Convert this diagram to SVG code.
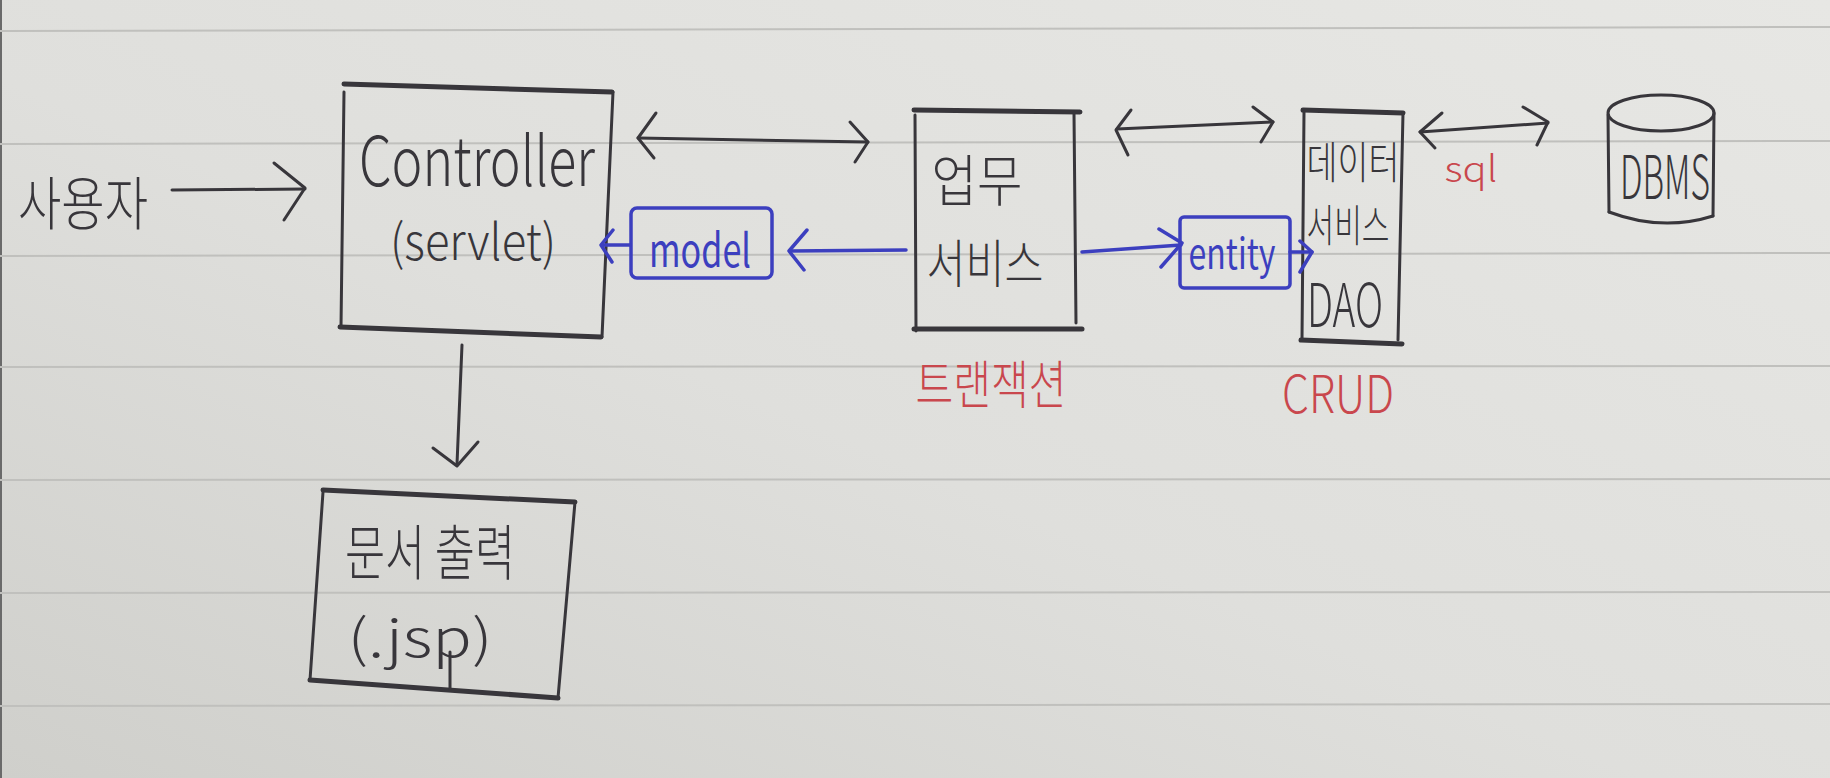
<svg xmlns="http://www.w3.org/2000/svg" width="1830" height="778" viewBox="0 0 1830 778">
<defs>
<linearGradient id="paper" x1="1" y1="0" x2="0" y2="1">
<stop offset="0" stop-color="#e7e7e4"/>
<stop offset="0.55" stop-color="#dfdfdc"/>
<stop offset="1" stop-color="#cfcfcb"/>
</linearGradient>
<style>
.ink{fill:none;stroke:#38363b;stroke-width:3;stroke-linecap:round;stroke-linejoin:round}
.edge{fill:none;stroke:#38363b;stroke-width:5;stroke-linecap:round}
.blue{fill:none;stroke:#3c3fbf;stroke-width:3.5;stroke-linecap:round;stroke-linejoin:round}
.rule{stroke:#c0c0bd;stroke-width:2;fill:none}
.t{font-family:"Noto Sans CJK KR","Noto Sans",sans-serif;font-weight:300;fill:#38363b;text-anchor:middle;dominant-baseline:central}
.tb{fill:#3c3fbf;font-weight:400}
.tr{fill:#c9474d}
</style>
</defs>
<rect x="0" y="0" width="1830" height="778" fill="url(#paper)"/>
<line x1="1" y1="0" x2="1" y2="778" stroke="#6a6a6a" stroke-width="2"/>
<g id="paper-lines">
<line class="rule" x1="0" y1="31" x2="1830" y2="27"/>
<line class="rule" x1="0" y1="144" x2="1830" y2="141"/>
<line class="rule" x1="0" y1="256" x2="1830" y2="253"/>
<line class="rule" x1="0" y1="367" x2="1830" y2="366"/>
<line class="rule" x1="0" y1="480" x2="1830" y2="479"/>
<line class="rule" x1="0" y1="593" x2="1830" y2="592"/>
<line class="rule" x1="0" y1="706" x2="1830" y2="704"/>
</g>

<g id="user">
<text class="t" x="83" y="200" font-size="58" textLength="130" lengthAdjust="spacingAndGlyphs">사용자</text>
</g>

<g id="controller">
<path class="edge" d="M344 84 L612 92"/>
<path class="ink" d="M344 92 L341 327"/>
<path class="ink" d="M613 92 L602 337"/>
<path class="edge" d="M340 327 L601 337"/>
<text class="t" x="477" y="156" font-size="68" textLength="236" lengthAdjust="spacingAndGlyphs">Controller</text>
<text class="t" x="473" y="238" font-size="50" textLength="166" lengthAdjust="spacingAndGlyphs">(servlet)</text>
</g>

<g id="model">
<rect class="blue" x="631" y="208" width="141" height="70" rx="6"/>
<text class="t tb" x="700" y="247" font-size="46" textLength="102" lengthAdjust="spacingAndGlyphs">model</text>
</g>

<g id="service">
<path class="edge" d="M914 110 L1080 112"/>
<path class="ink" d="M915 115 L916 331"/>
<path class="ink" d="M1074 113 L1076 323"/>
<path class="edge" d="M914 329 L1082 329"/>
<text class="t" x="977" y="176" font-size="56" textLength="91" lengthAdjust="spacingAndGlyphs">업무</text>
<text class="t" x="985" y="260" font-size="52" textLength="117" lengthAdjust="spacingAndGlyphs">서비스</text>
</g>

<g id="transaction-label">
<text class="t tr" x="991" y="381" font-size="52" textLength="151" lengthAdjust="spacingAndGlyphs">트랜잭션</text>
</g>

<g id="entity">
<rect class="blue" x="1180" y="217" width="110" height="71" rx="4"/>
<text class="t tb" x="1232" y="250" font-size="42" textLength="87" lengthAdjust="spacingAndGlyphs">entity</text>
</g>

<g id="dao">
<path class="edge" d="M1303 110 L1403 113"/>
<path class="ink" d="M1304 112 L1302 340"/>
<path class="ink" d="M1403 113 L1398 340"/>
<path class="edge" d="M1301 340 L1402 344"/>
<text class="t" x="1353" y="160" font-size="44" textLength="93" lengthAdjust="spacingAndGlyphs">데이터</text>
<text class="t" x="1348" y="223" font-size="44" textLength="83" lengthAdjust="spacingAndGlyphs">서비스</text>
<text class="t" x="1345" y="300" font-size="60" textLength="76" lengthAdjust="spacingAndGlyphs">DAO</text>
</g>

<g id="crud-label">
<text class="t tr" x="1338" y="390" font-size="52" textLength="112" lengthAdjust="spacingAndGlyphs">CRUD</text>
</g>

<g id="sql-label">
<text class="t tr" x="1471" y="166" font-size="36" textLength="53" lengthAdjust="spacingAndGlyphs">sql</text>
</g>

<g id="dbms">
<ellipse class="ink" cx="1661" cy="113" rx="53" ry="18"/>
<path class="ink" d="M1608 115 L1609 212"/>
<path class="ink" d="M1714 113 L1713 216"/>
<path class="ink" d="M1609 212 Q1662 232 1713 216"/>
<text class="t" x="1665" y="172" font-size="60" textLength="90" lengthAdjust="spacingAndGlyphs">DBMS</text>
</g>

<g id="jsp">
<path class="edge" d="M323 490 L575 502"/>
<path class="ink" d="M323 492 L310 680"/>
<path class="ink" d="M575 502 L558 698"/>
<path class="edge" d="M310 680 L558 698"/>
<path class="ink" d="M450 652 L450 688"/>
<text class="t" x="430" y="548" font-size="60" textLength="170" lengthAdjust="spacingAndGlyphs">문서 출력</text>
<text class="t" x="420" y="634" font-size="52" textLength="145" lengthAdjust="spacingAndGlyphs">(.jsp)</text>
</g>

<g id="connectors">
<path class="ink" d="M172 190 L305 189"/>
<path class="ink" d="M274 163 L305 188 L284 220"/>
<path class="ink" d="M638 138 L868 142"/>
<path class="ink" d="M656 113 L638 138 L654 158"/>
<path class="ink" d="M850 122 L868 142 L855 162"/>
<path class="ink" d="M1117 129 L1273 122"/>
<path class="ink" d="M1131 110 L1116 130 L1128 155"/>
<path class="ink" d="M1253 107 L1273 122 L1261 142"/>
<path class="ink" d="M1420 132 L1548 123"/>
<path class="ink" d="M1442 113 L1420 132 L1435 148"/>
<path class="ink" d="M1523 107 L1548 122 L1537 145"/>
<path class="ink" d="M462 345 L457 464"/>
<path class="ink" d="M433 448 L457 466 L478 442"/>
<path class="blue" d="M906 250 L790 251"/>
<path class="blue" d="M807 230 L789 251 L804 270"/>
<path class="blue" d="M630 245 L602 245"/>
<path class="blue" d="M613 230 L601 245 L612 262"/>
<path class="blue" d="M1082 252 L1181 245"/>
<path class="blue" d="M1159 229 L1182 243 L1161 267"/>
<path class="blue" d="M1290 252 L1312 252"/>
<path class="blue" d="M1300 241 L1312 252 L1300 272"/>
</g>
</svg>
